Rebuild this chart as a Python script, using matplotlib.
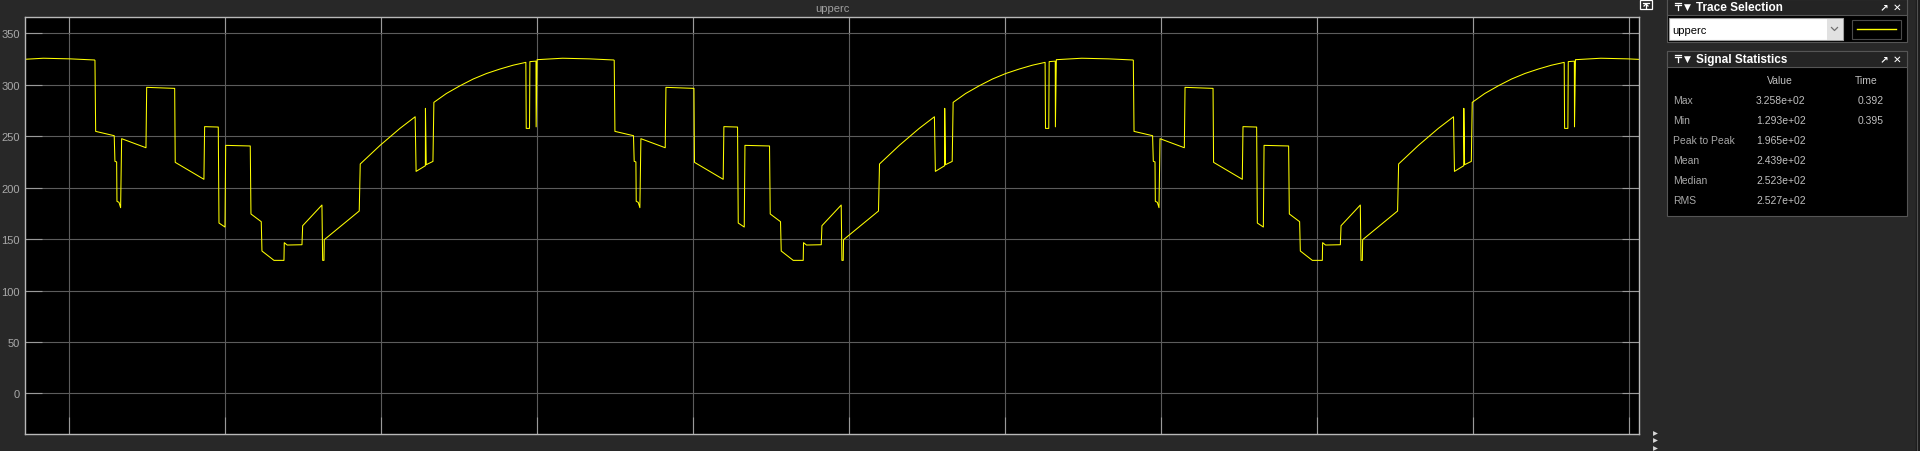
"""Scope view of the 'upperc' signal with trace selection and signal statistics panels."""
import numpy as np
import matplotlib
matplotlib.use("Agg")
import matplotlib.pyplot as plt
from matplotlib.patches import Rectangle

plt.rcParams["font.family"] = ["Liberation Sans", "DejaVu Sans"]

# one switching period of upperc, time in ms from the start of the period
CYCLE_T_MS = [0.000, 0.009, 0.247, 0.256, 0.278, 0.282, 0.308, 0.329, 0.342, 0.654,
              0.663, 1.022, 1.029, 1.397, 1.406, 1.581, 1.590, 1.667, 1.676, 1.991,
              2.000, 2.132, 2.141, 2.295, 2.423, 2.427, 2.465, 2.654, 2.663, 2.910,
              2.919, 2.936, 2.940, 3.388, 3.401, 3.654, 3.910, 4.105, 4.117, 4.236,
              4.237, 4.247, 4.333, 4.345, 4.505, 4.679, 4.849, 5.021, 5.192, 5.359,
              5.524, 5.529, 5.571, 5.576, 5.654, 5.656, 5.668, 5.994, 6.337, 6.651]
CYCLE_V = [323.7, 254.7, 250.5, 225.6, 225.0, 186.7, 185.7, 180.5, 247.6, 238.8,
           297.5, 296.5, 224.6, 208.1, 259.3, 258.9, 165.6, 161.7, 241.1, 240.5,
           174.4, 166.9, 138.4, 129.3, 129.3, 146.5, 144.2, 144.5, 163.0, 183.1,
           129.3, 129.3, 149.4, 177.3, 223.0, 241.0, 257.6, 268.9, 215.8, 221.3,
           277.1, 222.3, 225.5, 282.9, 291.5, 299.0, 305.6, 311.0, 315.3, 319.0,
           321.8, 257.6, 257.6, 322.5, 323.0, 259.1, 324.4, 325.8, 325.2, 324.1]
# start time (ms) of each period seen in the window
CYCLE_START_MS = [373.673, 380.329, 386.986, 393.641]

X_TICKS_MS = [380, 382, 384, 386, 388, 390, 392, 394, 396, 398, 400]
Y_TICKS = [0, 50, 100, 150, 200, 250, 300, 350]

STAT_NAMES = ["Max", "Min", "Peak to Peak", "Mean", "Median", "RMS"]
STAT_VALUES = ["3.258e+02", "1.293e+02", "1.965e+02", "2.439e+02", "2.523e+02", "2.527e+02"]
STAT_TIMES = ["0.392", "0.395", "", "", "", ""]

t = np.concatenate([start + np.array(CYCLE_T_MS) for start in CYCLE_START_MS]) / 1000.0
v = np.tile(CYCLE_V, len(CYCLE_START_MS))

BG = "#282828"
W, H = 1920, 452
fig = plt.figure(figsize=(W / 100, H / 100), dpi=100, facecolor=BG)

# main scope axes
ax = fig.add_axes([25.3 / W, 1 - 435 / H, (1638.7 - 25.3) / W, (435 - 18.3) / H])
ax.set_facecolor("black")
ax.plot(t, v, color="#ffff00", lw=0.75)
ax.set_xlim(0.379436, 0.400120)
ax.set_ylim(-39.5, 365.6)
ax.set_xticks([x / 1000 for x in X_TICKS_MS])
ax.set_yticks(Y_TICKS)
ax.grid(True, color="#5c5c5c", lw=0.8)
ax.tick_params(direction="in", length=12, width=0.8, color="#9a9a9a",
               top=True, right=True, labelbottom=False,
               labelsize=8, labelcolor="#a8a8a8", pad=4)
for s in ax.spines.values():
    s.set_color("#b8b8b8")
    s.set_linewidth(1.0)

# overlay in pixel coordinates for the window chrome
ov = fig.add_axes([0, 0, 1, 1], facecolor="none")
ov.set_xlim(0, W)
ov.set_ylim(H, 0)
ov.axis("off")

ov.text(832, 9.5, "upperc", color="#a0a0a0", fontsize=8, ha="center", va="center")

# undock icon above the axes
ov.add_patch(Rectangle((1640, 1), 12, 9, fill=False, ec="white", lw=0.9))
ov.plot([1643, 1649], [4, 4], color="white", lw=0.9)
ov.plot([1646, 1646], [5, 9], color="white", lw=0.9)
ov.plot([1644, 1646, 1648], [7, 5, 7], color="white", lw=0.9)

# small arrows at bottom right
ov.plot([1655, 1655, 1655], [433.5, 441, 448.5], ls="none", marker=">", ms=3.5,
        color="#d8d8d8", mec="none")

# right edge strip
ov.add_patch(Rectangle((1916, 0), 4, H, color="#1c1c1c"))
ov.plot([1916.5, 1916.5], [0, H], color="#505050", lw=0.8)


def panel(y0, y1, title):
    ov.add_patch(Rectangle((1667, y0), 240, y1 - y0, fc="#000000", ec="#555555", lw=0.8))
    ov.add_patch(Rectangle((1667, y0), 240, 15.5, fc="#242424", ec="#555555", lw=0.8))
    yc = y0 + 7.8
    ov.plot([1675, 1681], [yc - 3.5, yc - 3.5], color="white", lw=0.9)
    ov.plot([1675, 1681], [yc - 1.5, yc - 1.5], color="white", lw=0.9)
    ov.plot([1678, 1678], [yc - 1.5, yc + 3.5], color="white", lw=0.9)
    ov.text(1687.5, yc, "\u25bc", color="white", fontsize=6.5, ha="center", va="center",
            family="DejaVu Sans")
    ov.text(1696.5, yc, title, color="white", fontsize=8.5, fontweight="bold",
            ha="left", va="center")
    ov.text(1884, yc, "\u2197", color="white", fontsize=7.5, fontweight="bold",
            ha="center", va="center", family="DejaVu Sans")
    ov.text(1897, yc, "\u2715", color="white", fontsize=7.5, ha="center", va="center",
            family="DejaVu Sans")


panel(0, 43, "Trace Selection")
# trace dropdown
ov.add_patch(Rectangle((1669, 19), 174, 22, fc="white", ec="#a0a0a0", lw=0.8))
ov.add_patch(Rectangle((1826.5, 19.5), 16, 21, fc="#e1e1e1", ec="none"))
ov.plot([1831.5, 1834.5, 1837.5], [28.5, 31.5, 28.5], color="#707070", lw=0.9)
ov.text(1672, 30.5, "upperc", color="black", fontsize=8, ha="left", va="center")
ov.add_patch(Rectangle((1852, 20.5), 48.5, 19, fc="black", ec="#4a4a4a", lw=0.8))
ov.plot([1857, 1896], [29.5, 29.5], color="#ffff00", lw=1.0)

panel(52, 217, "Signal Statistics")
ov.text(1780, 81, "Value", color="#c0c0c0", fontsize=7.5, ha="center", va="center")
ov.text(1866, 81, "Time", color="#c0c0c0", fontsize=7.5, ha="center", va="center")
for i, (name, val, tm) in enumerate(zip(STAT_NAMES, STAT_VALUES, STAT_TIMES)):
    y = 101 + 20 * i
    ov.text(1673, y, name, color="#a8a8a8", fontsize=7.5, ha="left", va="center")
    ov.text(1756, y, val, color="#c0c0c0", fontsize=7.5, ha="left", va="center")
    if tm:
        ov.text(1857.5, y, tm, color="#c0c0c0", fontsize=7.5, ha="left", va="center")

fig.savefig("out.png", dpi=100, facecolor=BG)
